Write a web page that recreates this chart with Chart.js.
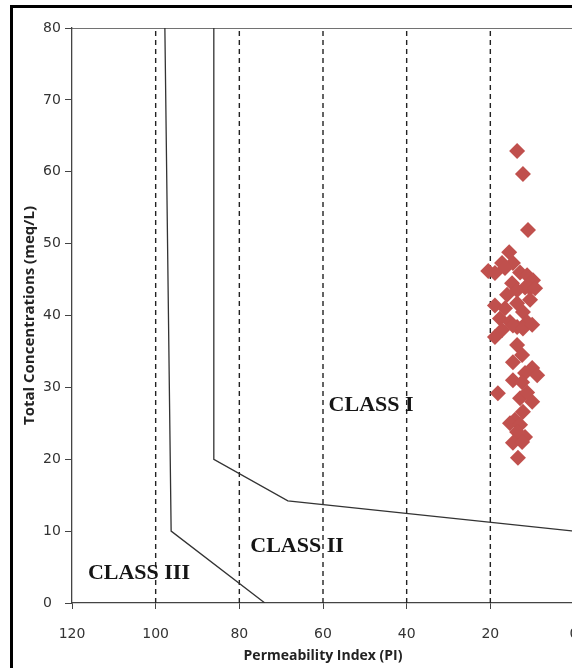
<!DOCTYPE html>
<html>
<head>
<meta charset="utf-8">
<script src="https://cdn.jsdelivr.net/npm/chart.js@4.4.1/dist/chart.umd.min.js"></script>
<style>
  html, body { margin: 0; padding: 0; background: #fff; overflow: hidden; width: 572px; height: 668px; }
  #frame { position: absolute; left: 10px; top: 5px; width: 700px; height: 700px; border-left: 3px solid #000; border-top: 3px solid #000; }
  #pi-chart { position: absolute; left: 0; top: 0; }
</style>
</head>
<body>
<div id="frame"></div>
<canvas id="pi-chart" width="604" height="668"></canvas>
<script>
// Doneen diagram: permeability index vs total concentration

const dashedAt = [100, 80, 60, 40, 20];

// class boundaries (PI, meq/L)
const class3X = [97.8, 96.3, 73.9];
const class3Y = [80, 10, 0];
const class2X = [86.1, 86.1, 68.4, 0];
const class2Y = [80, 20, 14.2, 10];

// samples
const sampleX = [13.6, 12.2, 11.0, 15.5, 17.2, 14.6, 20.5, 18.9, 16.5, 12.9,
  11.2, 9.8, 14.8, 11.7, 13.6, 18.9, 16.5, 13.6, 12.2, 17.7,
  15.3, 11.2, 13.6, 17.2, 18.9, 14.6, 12.2, 10.0, 13.6, 12.4,
  14.6, 10.0, 11.7, 14.6, 12.4, 8.8, 18.2, 12.9, 11.2, 10.0,
  12.2, 14.1, 15.3, 12.9, 13.6, 11.7, 14.6, 12.4, 13.4, 10.5,
  10.5, 9.3, 16.0];
const sampleY = [62.9, 59.7, 51.9, 48.8, 47.3, 47.3, 46.2, 45.9, 46.6, 46.0,
  45.6, 44.9, 44.5, 43.9, 43.5, 41.4, 41.0, 41.7, 40.5, 39.6,
  39.1, 39.1, 38.4, 38.0, 37.0, 38.6, 38.2, 38.7, 35.9, 34.5,
  33.5, 32.7, 32.0, 31.0, 30.7, 31.7, 29.2, 28.5, 29.3, 28.0,
  26.6, 25.5, 25.0, 24.8, 23.8, 23.1, 22.3, 22.4, 20.2, 43.8,
  42.2, 43.8, 42.9];

const classNames = ['CLASS I', 'CLASS II', 'CLASS III'];
const classAtX = [48.5, 66.2, 104];
const classAtY = [27.5, 7.9, 4.2];

const toPoints = (xs, ys) => xs.map((v, i) => ({ x: v, y: ys[i] }));

const lineStyle = {
  type: 'line',
  showLine: true,
  fill: false,
  tension: 0,
  pointRadius: 0,
  pointHoverRadius: 0,
  borderColor: '#333333',
  borderWidth: 1.3
};

const datasets = [
  {
    type: 'scatter',
    label: 'Samples',
    data: toPoints(sampleX, sampleY),
    pointStyle: 'rectRot',
    pointRadius: 8,
    backgroundColor: '#c0504d',
    borderWidth: 0,
    order: 0
  },
  { ...lineStyle, label: 'Class III', data: toPoints(class3X, class3Y), order: 1 },
  { ...lineStyle, label: 'Class II', data: toPoints(class2X, class2Y), order: 1 },
  { ...lineStyle, label: 'Frame', data: [{ x: 120, y: 80 }, { x: 0, y: 80 }, { x: 0, y: 0 }], borderColor: '#444444', order: 2 }
];

dashedAt.forEach(v => {
  datasets.push({
    ...lineStyle,
    label: 'PI ' + v,
    data: [{ x: v, y: 0 }, { x: v, y: 80 }],
    borderColor: '#222222',
    borderWidth: 1.4,
    borderDash: [5, 4],
    order: 3
  });
});

const classLabelPlugin = {
  id: 'classLabels',
  afterDatasetsDraw(chart) {
    const { ctx, scales: { x, y } } = chart;
    ctx.save();
    ctx.font = 'bold 22px "Liberation Serif"';
    ctx.fillStyle = '#151515';
    ctx.textAlign = 'center';
    ctx.textBaseline = 'middle';
    classNames.forEach((t, i) => {
      ctx.fillText(t, x.getPixelForValue(classAtX[i]), y.getPixelForValue(classAtY[i]));
    });
    ctx.restore();
  }
};

new Chart(document.getElementById('pi-chart'), {
  data: { datasets },
  plugins: [classLabelPlugin],
  options: {
    responsive: false,
    animation: false,
    layout: { padding: { left: 43, right: 30, top: 28, bottom: 0 } },
    plugins: {
      legend: { display: false },
      tooltip: { enabled: false }
    },
    scales: {
      x: {
        type: 'linear',
        reverse: true,
        min: 0,
        max: 120,
        afterFit: (scale) => { scale.height = 65; },
        ticks: {
          stepSize: 20,
          color: '#333333',
          font: { family: 'DejaVu Sans', size: 14 },
          padding: 17,
          maxRotation: 0
        },
        grid: { drawOnChartArea: false, drawTicks: true, tickLength: 6, color: '#444444' },
        border: { display: true, color: '#444444', width: 1.3 },
        title: {
          display: true,
          text: 'Permeability Index (PI)',
          color: '#222222',
          font: { family: 'Open Sans', size: 14, weight: 'bold' },
          padding: { top: 0, bottom: 4 }
        }
      },
      y: {
        type: 'linear',
        min: 0,
        max: 80,
        afterFit: (scale) => { scale.width = 29; },
        ticks: {
          stepSize: 10,
          color: '#333333',
          font: { family: 'DejaVu Sans', size: 14 },
          crossAlign: 'far',
          padding: 2
        },
        grid: { drawOnChartArea: false, drawTicks: true, tickLength: 7, color: '#444444' },
        border: { display: true, color: '#444444', width: 1.3 },
        title: {
          display: true,
          text: 'Total Concentrations (meq/L)',
          color: '#222222',
          font: { family: 'Open Sans', size: 15, weight: 'bold' },
          padding: { top: -22, bottom: 0 }
        }
      }
    }
  }
});
</script>
</body>
</html>
